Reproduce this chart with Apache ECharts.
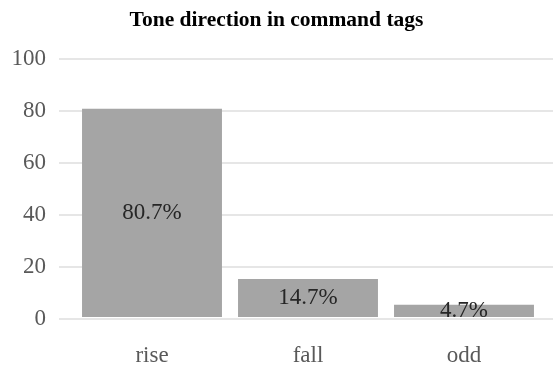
<!DOCTYPE html>
<html>
<head>
<meta charset="utf-8">
<script src="https://cdn.jsdelivr.net/npm/echarts@6/dist/echarts.min.js"></script>
<style>
  html, body { margin: 0; padding: 0; background: #fff; }
  #chart { width: 553px; height: 367px; }
</style>
</head>
<body>
<div id="chart"></div>
<script>
// Share of command tags by tone direction (percent)
const categories = ['rise', 'fall', 'odd'];
const shares = [80.7, 14.7, 4.7];
const yTicks = { min: 0, max: 100, interval: 20 };
const titleText = 'Tone direction in command tags';

const serif = '"Liberation Serif", "Times New Roman", serif';
const chart = echarts.init(document.getElementById('chart'), null, { renderer: 'canvas' });

chart.setOption({
  animation: false,
  backgroundColor: '#ffffff',
  title: {
    text: titleText,
    left: 'center',
    top: 4,
    textStyle: { fontFamily: serif, fontWeight: 'bold', fontSize: 21.5, color: '#000000' }
  },
  grid: [
    // value axis with horizontal gridlines spanning the full width
    { left: 59, right: 0, top: 59, bottom: 48.5 },
    // category band for the bars
    { left: 74, right: 11, top: 59, bottom: 48.5 }
  ],
  xAxis: [
    { type: 'value', gridIndex: 0, show: false, min: 0, max: 1 },
    {
      type: 'category', gridIndex: 1, data: categories,
      axisLine: { show: false }, axisTick: { show: false },
      axisLabel: { fontFamily: serif, fontSize: 23, color: '#595959', margin: 27 }
    }
  ],
  yAxis: [
    {
      type: 'value', gridIndex: 0, min: yTicks.min, max: yTicks.max, interval: yTicks.interval,
      axisLine: { show: false }, axisTick: { show: false },
      axisLabel: { fontFamily: serif, fontSize: 23, color: '#595959', margin: 13 },
      splitLine: { lineStyle: { color: '#e6e6e6', width: 2 } }
    },
    {
      type: 'value', gridIndex: 1, min: yTicks.min, max: yTicks.max, interval: yTicks.interval,
      show: false, splitLine: { show: false }
    }
  ],
  series: [{
    type: 'bar',
    xAxisIndex: 1,
    yAxisIndex: 1,
    data: shares,
    barCategoryGap: '10.3%',
    itemStyle: { color: '#a5a5a5' },
    label: {
      show: true,
      position: 'inside',
      formatter: p => p.value.toFixed(1) + '%',
      fontFamily: serif,
      fontSize: 23,
      color: '#262626'
    }
  }]
});
</script>
</body>
</html>
